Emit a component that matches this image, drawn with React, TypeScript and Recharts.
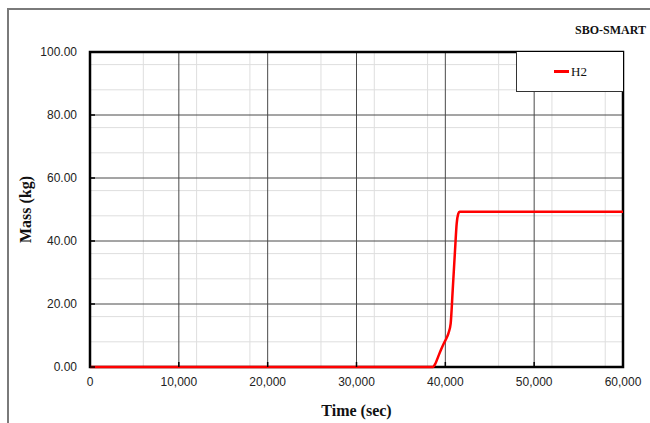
import React from "react";
import {
  LineChart,
  Line,
  XAxis,
  YAxis,
  CartesianGrid,
  ReferenceArea,
  Legend,
  Label,
} from "recharts";

// ─── Data ──────────────────────────────────────────────────────────────────

const timeSec = [0, 38600, 38900, 39200, 39500, 39800, 40100, 40350, 40600, 40830, 41090, 41280, 41450, 41600, 60000];
const h2Mass = [0, 0, 1.2, 3.3, 5.4, 7.3, 9.0, 10.7, 13.8, 24.4, 37.0, 45.6, 48.6, 49.3, 49.3];

const xTicks = [0, 10000, 20000, 30000, 40000, 50000, 60000];
const yTicks = [0, 20, 40, 60, 80, 100];
const xMinor = [2000, 4000, 6000, 8000, 12000, 14000, 16000, 18000, 22000, 24000, 26000, 28000, 32000, 34000, 36000, 38000, 42000, 44000, 46000, 48000, 52000, 54000, 56000, 58000];
const yMinor = [4, 8, 12, 16, 24, 28, 32, 36, 44, 48, 52, 56, 64, 68, 72, 76, 84, 88, 92, 96];

const data = timeSec.map((t, i) => ({ t, h2: h2Mass[i] }));

// ─── Styles ────────────────────────────────────────────────────────────────

const sans = "'Liberation Sans', Arial, sans-serif";
const serif = "'Liberation Serif', 'Times New Roman', serif";
const tickStyle = { fontSize: 12, fill: "#222", fontFamily: sans };
const tickLineStyle = { stroke: "#000", strokeWidth: 1.5 };

function LegendBox() {
  return (
    <div
      style={{
        boxSizing: "border-box",
        width: 107,
        height: 40,
        background: "#fff",
        borderLeft: "1px solid #333",
        borderBottom: "1px solid #333",
        display: "flex",
        alignItems: "center",
        paddingLeft: 37,
        fontFamily: serif,
        fontSize: 13,
        color: "#111",
      }}
    >
      <span style={{ display: "inline-block", width: 15, height: 3, background: "#ff0000", marginRight: 2 }} />
      H2
    </div>
  );
}

export default function App() {
  return (
    <div style={{ position: "absolute", left: 0, top: 0, width: 650, height: 423, background: "#fff" }}>
      {/* outer frame */}
      <div style={{ position: "absolute", left: 7, top: 8, width: 643, height: 2, background: "#7a7a7a" }} />
      <div style={{ position: "absolute", left: 7, top: 8, width: 2, height: 415, background: "#7a7a7a" }} />
      <div
        style={{
          position: "absolute",
          right: 4,
          top: 23,
          fontFamily: serif,
          fontWeight: "bold",
          fontSize: 12,
          color: "#111",
        }}
      >
        SBO-SMART
      </div>

      <LineChart width={650} height={423} data={data} margin={{ top: 52, right: 27, bottom: 0, left: 0 }}>
        <CartesianGrid stroke="#dedede" strokeWidth={1} verticalValues={xMinor} horizontalValues={yMinor} />
        <CartesianGrid stroke="#4a4a4a" strokeWidth={1} verticalValues={xTicks} horizontalValues={yTicks} />
        <XAxis
          dataKey="t"
          type="number"
          domain={[0, 60000]}
          ticks={xTicks}
          tickFormatter={(v: number) => v.toLocaleString("en-US")}
          tick={tickStyle}
          tickLine={tickLineStyle}
          tickSize={-5}
          tickMargin={15}
          axisLine={false}
          height={56}
        >
          <Label
            value="Time (sec)"
            position="center"
            dy={15}
            style={{ fontFamily: serif, fontWeight: "bold", fontSize: 16, fill: "#111" }}
          />
        </XAxis>
        <YAxis
          type="number"
          domain={[0, 100]}
          ticks={yTicks}
          tickFormatter={(v: number) => v.toFixed(2)}
          tick={tickStyle}
          tickLine={tickLineStyle}
          tickSize={-5}
          tickMargin={18}
          axisLine={false}
          width={90}
        >
          <Label
            value="Mass (kg)"
            angle={-90}
            position="center"
            dx={-20}
            style={{ fontFamily: serif, fontWeight: "bold", fontSize: 16, fill: "#111" }}
          />
        </YAxis>
        <ReferenceArea x1={0} x2={60000} y1={0} y2={100} fill="none" stroke="#000" strokeWidth={2.5} ifOverflow="visible" />
        <Line
          type="monotone"
          dataKey="h2"
          name="H2"
          stroke="#ff0000"
          strokeWidth={2.5}
          dot={false}
          isAnimationActive={false}
        />
        <Legend
          layout="horizontal"
          align="center"
          verticalAlign="middle"
          content={() => <LegendBox />}
          wrapperStyle={{ left: 516, top: 52, width: 107, height: 40 }}
        />
      </LineChart>
    </div>
  );
}
